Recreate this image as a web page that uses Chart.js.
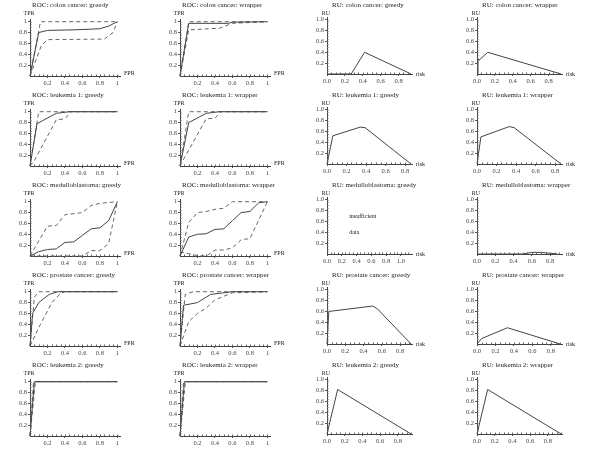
<!DOCTYPE html>
<html>
<head>
<meta charset="utf-8">
<script src="https://cdn.jsdelivr.net/npm/chart.js@4.4.0/dist/chart.umd.min.js"></script>
<style>
    body { margin: 0; background: #fff; width: 600px; height: 450px; position: relative; overflow: hidden; }
    canvas { position: absolute; }
</style>
</head>
<body>
<script>
// tick values
const rocTicks = [0.2, 0.4, 0.6, 0.8, 1];
const ruYTicks = [0.2, 0.4, 0.6, 0.8, 1.0];
const ruXTicks = [0, 0.2, 0.4, 0.6, 0.8];
const ruXTicksWide = [0, 0.2, 0.4, 0.6, 0.8, 1.0];

// ROC curves [FPR, TPR]: mean (solid) and upper / lower bounds (dashed)
const colonGreedyMean = [[0, 0], [0.1, 0.8], [0.2, 0.84], [0.5, 0.85], [0.8, 0.87], [0.9, 0.92], [1, 1]];
const colonGreedyHi = [[0, 0], [0.12, 1], [1, 1]];
const colonGreedyLo = [[0, 0], [0.13, 0.56], [0.2, 0.67], [0.85, 0.68], [0.95, 0.8], [1, 1]];
const colonWrapperMean = [[0, 0], [0.1, 0.97], [0.55, 0.97], [0.6, 0.99], [1, 1]];
const colonWrapperHi = [[0, 0], [0.1, 1], [1, 1]];
const colonWrapperLo = [[0, 0], [0.1, 0.85], [0.45, 0.88], [0.6, 0.97], [1, 1]];

const leuk1GreedyMean = [[0, 0], [0.08, 0.78], [0.3, 0.97], [0.45, 1], [1, 1]];
const leuk1GreedyHi = [[0, 0], [0.1, 1], [1, 1]];
const leuk1GreedyLo = [[0, 0], [0.05, 0.1], [0.3, 0.85], [0.4, 0.87], [0.47, 1], [1, 1]];
const leuk1WrapperMean = [[0, 0], [0.1, 0.8], [0.3, 0.97], [0.45, 1], [1, 1]];
const leuk1WrapperHi = [[0, 0], [0.1, 1], [1, 1]];
const leuk1WrapperLo = [[0, 0], [0.05, 0.15], [0.3, 0.87], [0.4, 0.88], [0.47, 1], [1, 1]];

const medulloGreedyMean = [[0, 0], [0.1, 0.08], [0.2, 0.12], [0.3, 0.13], [0.4, 0.25], [0.5, 0.26], [0.6, 0.38], [0.7, 0.5], [0.8, 0.52], [0.9, 0.65], [1, 1]];
const medulloGreedyHi = [[0, 0], [0.2, 0.55], [0.3, 0.56], [0.4, 0.76], [0.5, 0.78], [0.6, 0.8], [0.7, 0.93], [0.8, 0.97], [1, 1]];
const medulloGreedyLo = [[0, 0], [0.6, 0], [0.7, 0.1], [0.8, 0.1], [0.9, 0.23], [1, 1]];
const medulloWrapperMean = [[0, 0], [0.1, 0.35], [0.2, 0.4], [0.3, 0.41], [0.4, 0.49], [0.5, 0.5], [0.6, 0.65], [0.7, 0.8], [0.8, 0.82], [0.9, 0.98], [1, 1]];
const medulloWrapperHi = [[0, 0], [0.1, 0.62], [0.2, 0.8], [0.3, 0.82], [0.4, 0.86], [0.5, 0.88], [0.6, 1], [1, 1]];
const medulloWrapperLo = [[0, 0.08], [0.1, 0.04], [0.2, 0.01], [0.3, 0], [0.4, 0.11], [0.5, 0.11], [0.6, 0.15], [0.7, 0.3], [0.8, 0.32], [1, 1]];

const prostateGreedyMean = [[0, 0], [0.03, 0.6], [0.1, 0.8], [0.22, 0.95], [0.32, 1], [1, 1]];
const prostateGreedyHi = [[0, 0], [0.05, 0.9], [0.1, 1], [1, 1]];
const prostateGreedyLo = [[0, 0], [0.12, 0.4], [0.25, 0.8], [0.35, 0.97], [0.4, 1], [1, 1]];
const prostateWrapperMean = [[0, 0], [0.04, 0.75], [0.2, 0.8], [0.35, 0.95], [0.6, 1], [1, 1]];
const prostateWrapperHi = [[0, 0], [0.06, 0.95], [0.15, 1], [1, 1]];
const prostateWrapperLo = [[0, 0], [0.1, 0.45], [0.2, 0.6], [0.3, 0.7], [0.4, 0.85], [0.6, 0.98], [1, 1]];

const leuk2GreedyMean = [[0, 0], [0.05, 1], [1, 1]];
const leuk2GreedyHi = [[0, 0], [0.04, 1], [1, 1]];
const leuk2GreedyLo = [[0, 0], [0.06, 0.97], [0.1, 1], [1, 1]];
const leuk2WrapperMean = [[0, 0], [0.05, 1], [1, 1]];
const leuk2WrapperHi = [[0, 0], [0.04, 1], [1, 1]];
const leuk2WrapperLo = [[0, 0], [0.06, 0.97], [0.1, 1], [1, 1]];

// RU curves [risk, RU]
const ruColonGreedy = [[0, 0], [0.27, 0], [0.42, 0.4], [0.94, 0]];
const ruColonWrapper = [[0, 0], [0.01, 0.28], [0.02, 0.25], [0.12, 0.4], [0.94, 0]];
const ruLeuk1Greedy = [[0, 0], [0.06, 0.52], [0.34, 0.68], [0.39, 0.67], [0.86, 0]];
const ruLeuk1Wrapper = [[0, 0], [0.04, 0.5], [0.33, 0.69], [0.38, 0.67], [0.86, 0]];
const ruMedulloWrapper = [[0, 0], [0.5, 0], [0.6, 0.03], [0.7, 0.03], [0.88, 0]];
const ruProstateGreedy = [[0, 0], [0.02, 0.6], [0.5, 0.7], [0.55, 0.65], [0.92, 0]];
const ruProstateWrapper = [[0, 0], [0.05, 0.1], [0.33, 0.3], [0.9, 0]];
const ruLeuk2Greedy = [[0, 0], [0.12, 0.82], [0.95, 0]];
const ruLeuk2Wrapper = [[0, 0], [0.12, 0.82], [0.95, 0]];

const medulloNotes = [{text: 'insufficient', x: 0.3, y: 0.7}, {text: 'data', x: 0.3, y: 0.4}];

const roc = (title, mean, hi, lo) => ({kind: 'roc', title, series: [mean, hi, lo], xmax: 1.03});
const ru = (title, pts, xmax, xTicks, notes) => ({kind: 'ru', title, series: pts ? [pts] : [], xmax, xTicks: xTicks || ruXTicks, notes: notes || []});

const panels = [
    roc('ROC: colon cancer: greedy', colonGreedyMean, colonGreedyHi, colonGreedyLo),
    roc('ROC: colon cancer: wrapper', colonWrapperMean, colonWrapperHi, colonWrapperLo),
    ru('RU: colon cancer: greedy', ruColonGreedy, 0.95),
    ru('RU: colon cancer: wrapper', ruColonWrapper, 0.95),
    roc('ROC: leukemia 1: greedy', leuk1GreedyMean, leuk1GreedyHi, leuk1GreedyLo),
    roc('ROC: leukemia 1: wrapper', leuk1WrapperMean, leuk1WrapperHi, leuk1WrapperLo),
    ru('RU: leukemia 1: greedy', ruLeuk1Greedy, 0.87),
    ru('RU: leukemia 1: wrapper', ruLeuk1Wrapper, 0.87),
    roc('ROC: medulloblastoma: greedy', medulloGreedyMean, medulloGreedyHi, medulloGreedyLo),
    roc('ROC: medulloblastoma: wrapper', medulloWrapperMean, medulloWrapperHi, medulloWrapperLo),
    ru('RU: medulloblastoma: greedy', null, 1.15, ruXTicksWide, medulloNotes),
    ru('RU: medulloblastoma: wrapper', ruMedulloWrapper, 0.93),
    roc('ROC: prostate cancer: greedy', prostateGreedyMean, prostateGreedyHi, prostateGreedyLo),
    roc('ROC: prostate cancer: wrapper', prostateWrapperMean, prostateWrapperHi, prostateWrapperLo),
    ru('RU: prostate cancer: greedy', ruProstateGreedy, 0.93),
    ru('RU: prostate cancer: wrapper', ruProstateWrapper, 0.92),
    roc('ROC: leukemia 2: greedy', leuk2GreedyMean, leuk2GreedyHi, leuk2GreedyLo),
    roc('ROC: leukemia 2: wrapper', leuk2WrapperMean, leuk2WrapperHi, leuk2WrapperLo),
    ru('RU: leukemia 2: greedy', ruLeuk2Greedy, 0.96),
    ru('RU: leukemia 2: wrapper', ruLeuk2Wrapper, 0.96),
];

const SERIF = '"Liberation Serif", "DejaVu Serif", serif';
const W = 150, H = 90;

// titles, axis names, minor ticks and free text, drawn onto each little panel
const panelText = {
    id: 'panelText',
    afterDraw(chart, args, opts) {
        const {ctx, chartArea, scales} = chart;
        ctx.save();
        const y0 = scales.y.getPixelForValue(0);
        const x0 = scales.x.getPixelForValue(0);

        // small minor ticks along both axes, pointing inwards
        ctx.strokeStyle = '#666';
        ctx.lineWidth = 1;
        ctx.beginPath();
        for (let v = 0.05; v < scales.y.max; v += 0.05) {
            const py = Math.round(scales.y.getPixelForValue(v)) + 0.5;
            ctx.moveTo(x0, py);
            ctx.lineTo(x0 + 1.5, py);
        }
        for (let v = 0.05; v < scales.x.max; v += 0.05) {
            const px = Math.round(scales.x.getPixelForValue(v)) + 0.5;
            ctx.moveTo(px, y0);
            ctx.lineTo(px, y0 - 1.5);
        }
        ctx.stroke();

        ctx.fillStyle = '#222';
        ctx.textBaseline = 'middle';
        ctx.textAlign = 'left';
        ctx.font = '7px ' + SERIF;
        ctx.fillText(opts.title, 32, 5.5);
        ctx.font = '6px ' + SERIF;
        ctx.textAlign = 'center';
        ctx.fillText(opts.yName, chartArea.left - 1, 13);
        ctx.textAlign = 'left';
        if (opts.xName) {
            ctx.fillText(opts.xName, chartArea.right + 4, y0 - (opts.xName === 'FPR' ? 3 : 0));
        }
        opts.notes.forEach((n) => {
            ctx.fillText(n.text, scales.x.getPixelForValue(n.x), scales.y.getPixelForValue(n.y));
        });
        ctx.restore();
    }
};

panels.forEach((p, i) => {
    const row = Math.floor(i / 4), col = i % 4;
    const canvas = document.createElement('canvas');
    canvas.width = W;
    canvas.height = H;
    canvas.style.left = (col * W) + 'px';
    canvas.style.top = (row * H) + 'px';
    document.body.appendChild(canvas);

    const isRoc = p.kind === 'roc';
    const left = isRoc ? 30 : 27;
    const right = isRoc ? 120 : 112;
    const bottom = isRoc ? 76 : 74;
    const top = isRoc ? 19 : 17.6;
    const xTicks = isRoc ? rocTicks : p.xTicks;
    const yTicks = isRoc ? rocTicks : ruYTicks;
    const fmt = (v) => (isRoc && v === 1) ? '1' : v.toFixed(1);
    // the bottom row has no axis name on the horizontal axis
    const xName = row === 4 ? '' : (isRoc ? 'FPR' : 'risk');

    const datasets = p.series.map((pts, k) => ({
        data: pts.map(([x, y]) => ({x, y})),
        borderColor: k === 0 ? '#444' : '#666',
        borderWidth: 1,
        borderDash: k === 0 ? [] : [4, 3],
        pointRadius: 0,
        tension: 0,
        fill: false,
        clip: false
    }));

    const axisStyle = {
        grid: {display: true, drawOnChartArea: false, drawTicks: true, tickLength: 2, color: '#555'},
        border: {display: true, color: '#444', width: 1},
    };

    new Chart(canvas, {
        type: 'line',
        data: {datasets},
        options: {
            responsive: false,
            animation: false,
            devicePixelRatio: 1,
            layout: {padding: {top: top, right: W - right, bottom: 0, left: 0}},
            plugins: {
                legend: {display: false},
                tooltip: {enabled: false},
                panelText: {
                    title: p.title,
                    yName: isRoc ? 'TPR' : 'RU',
                    xName: xName,
                    notes: p.notes || []
                }
            },
            scales: {
                x: {
                    type: 'linear', min: 0, max: p.xmax,
                    afterBuildTicks: (s) => { s.ticks = xTicks.map((v) => ({value: v})); },
                    afterFit: (s) => { s.height = H - bottom; },
                    ticks: {autoSkip: false, maxRotation: 0, padding: 1, color: '#444',
                        font: {family: SERIF, size: 6.5}, callback: fmt},
                    ...axisStyle
                },
                y: {
                    type: 'linear', min: 0, max: isRoc ? 1.05 : 1.04,
                    afterBuildTicks: (s) => { s.ticks = yTicks.map((v) => ({value: v})); },
                    afterFit: (s) => { s.width = left; },
                    ticks: {autoSkip: false, padding: 1, color: '#444',
                        font: {family: SERIF, size: 6.5}, callback: fmt},
                    ...axisStyle
                }
            }
        },
        plugins: [panelText]
    });
});
</script>
</body>
</html>
